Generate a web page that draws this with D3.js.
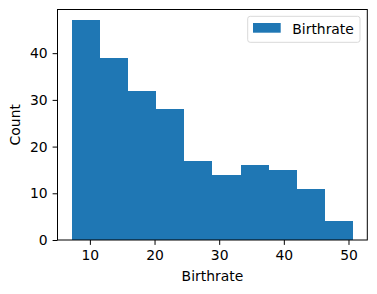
<!DOCTYPE html>
<html><head><meta charset="utf-8">
<script src="https://cdn.jsdelivr.net/npm/d3@7"></script>
<style>body{margin:0;background:#fff}svg{display:block}text{font-family:"DejaVu Sans",sans-serif;fill:#000}</style>
</head><body>
<svg id="c" width="377" height="294"></svg>
<script>
const binMin = 7.17, binMax = 50.73;
const counts = [47, 39, 32, 28, 17, 14, 16, 15, 11, 4];
const xTicks = [10, 20, 30, 40, 50];
const yTicks = [0, 10, 20, 30, 40];
const seriesName = "Birthrate";
const xLabel = "Birthrate", yLabel = "Count";
const color = "#1f77b4";

const svg = d3.select("#c");
const L = 57.5, R = 367.3, T = 9.5, B = 240;
const w = (binMax - binMin) / counts.length;
const bins = counts.map((c, i) => ({x0: binMin + i * w, x1: binMin + (i + 1) * w, c}));
const span = binMax - binMin;
const x = d3.scaleLinear().domain([binMin - 0.05 * span, binMax + 0.05 * span]).range([L, R]);
const y = d3.scaleLinear().domain([0, d3.max(counts) * 1.05]).range([B, T]);

svg.append("g").selectAll("rect").data(bins).join("rect")
  .attr("x", d => x(d.x0)).attr("width", d => x(d.x1) - x(d.x0))
  .attr("y", d => y(d.c)).attr("height", d => B - y(d.c))
  .attr("fill", color).attr("shape-rendering", "crispEdges");

const fs = "13.9px";
const xa = svg.append("g").attr("transform", `translate(0,${B})`)
  .call(d3.axisBottom(x).tickValues(xTicks).tickSize(4.9).tickPadding(4.9).tickFormat(d3.format("d")));
const ya = svg.append("g").attr("transform", `translate(${L},0)`)
  .call(d3.axisLeft(y).tickValues(yTicks).tickSize(4.9).tickPadding(4.9).tickFormat(d3.format("d")));
[xa, ya].forEach(a => {
  a.select(".domain").remove();
  a.selectAll("text").style("font-size", fs).style("font-family", "DejaVu Sans");
  a.selectAll("line").attr("stroke", "#000").attr("stroke-width", 1);
});
svg.append("rect").attr("x", L).attr("y", T).attr("width", R - L).attr("height", B - T)
  .attr("fill", "none").attr("stroke", "#000").attr("stroke-width", 1);

svg.append("text").attr("x", (L + R) / 2).attr("y", 280.7).attr("text-anchor", "middle")
  .style("font-size", fs).text(xLabel);
svg.append("text").attr("transform", `translate(19.5,${(T + B) / 2}) rotate(-90)`)
  .attr("text-anchor", "middle").style("font-size", fs).text(yLabel);

const lg = svg.append("g");
lg.append("rect").attr("x", 247.7).attr("y", 16.3).attr("width", 112.3).attr("height", 26)
  .attr("rx", 2.5).attr("fill", "#fff").attr("fill-opacity", 0.8).attr("stroke", "#d9d9d9");
lg.append("rect").attr("x", 253).attr("y", 23).attr("width", 27.7).attr("height", 9.7).attr("fill", color);
lg.append("text").attr("x", 292.3).attr("y", 33.5).style("font-size", fs).text(seriesName);
</script>
</body></html>
